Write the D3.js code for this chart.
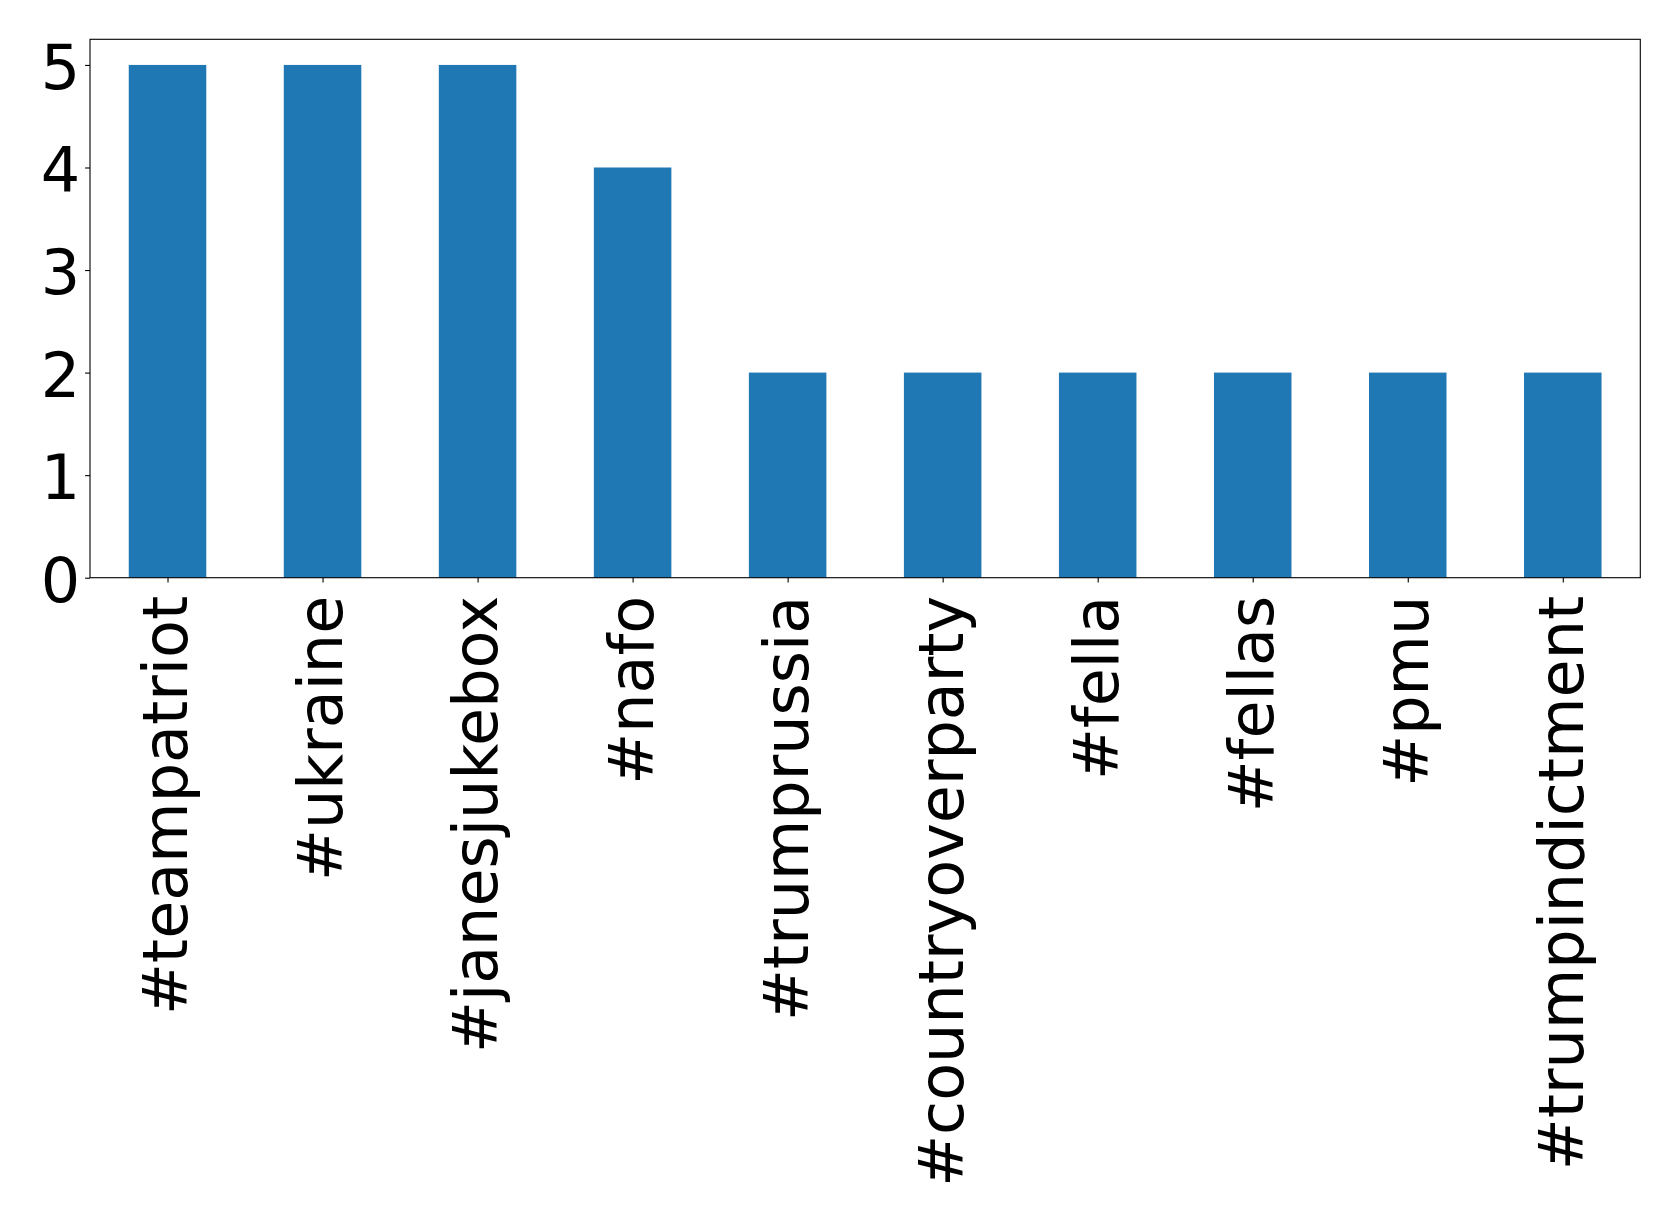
<!DOCTYPE html>
<html>
<head>
<meta charset="utf-8">
<script src="https://cdn.jsdelivr.net/npm/d3@7"></script>
<style>
  html, body { margin: 0; padding: 0; background: #fff; }
  svg { display: block; }
  text { font-family: "DejaVu Sans", sans-serif; fill: #000; }
</style>
</head>
<body>
<svg id="chart" width="1679" height="1224"></svg>
<script>
const categories = ["#teampatriot", "#ukraine", "#janesjukebox", "#nafo", "#trumprussia",
  "#countryoverparty", "#fella", "#fellas", "#pmu", "#trumpindictment"];
const counts = [5, 5, 5, 4, 2, 2, 2, 2, 2, 2];
const yTicks = [0, 1, 2, 3, 4, 5];

(function () {
const W = 1679, H = 1224;
const mLeft = 90, mRight = 1640.3, mTop = 39.3, mBottom = 577.7;
const fontSize = 62;

const svg = d3.select("#chart");

const x = d3.scaleLinear().domain([-0.5, categories.length - 0.5]).range([mLeft, mRight]);
const y = d3.scaleLinear().domain([0, d3.max(counts) * 1.05]).range([mBottom, mTop]);
const barW = x(0.5) - x(0);

svg.append("g").selectAll("rect")
  .data(counts)
  .join("rect")
  .attr("x", (d, i) => x(i) - barW / 2)
  .attr("width", barW)
  .attr("y", d => y(d))
  .attr("height", d => y(0) - y(d))
  .attr("fill", "#1f77b4");

// frame
svg.append("rect")
  .attr("x", mLeft).attr("y", mTop)
  .attr("width", mRight - mLeft).attr("height", mBottom - mTop)
  .attr("fill", "none").attr("stroke", "#000").attr("stroke-width", 1.1);

// y axis
const yAxis = d3.axisLeft(y).tickValues(yTicks).tickFormat(d3.format("d")).tickSize(4.9).tickPadding(4.9);
const gy = svg.append("g").attr("transform", `translate(${mLeft},0)`).call(yAxis);
gy.select(".domain").remove();
gy.selectAll(".tick line").attr("stroke", "#000").attr("stroke-width", 1.1);
gy.selectAll(".tick text")
  .attr("font-size", fontSize)
  .attr("font-family", "DejaVu Sans, sans-serif")
  .attr("fill", "#000")
  .attr("dy", "0.38em");

// x axis
const xAxis = d3.axisBottom(x).tickValues(d3.range(categories.length))
  .tickFormat(i => categories[i]).tickSize(4.9).tickPadding(0);
const gx = svg.append("g").attr("transform", `translate(0,${mBottom})`).call(xAxis);
gx.select(".domain").remove();
gx.selectAll(".tick line").attr("stroke", "#000").attr("stroke-width", 1.1);
gx.selectAll(".tick text")
  .attr("font-size", fontSize)
  .attr("font-family", "DejaVu Sans, sans-serif")
  .attr("fill", "#000")
  .attr("text-anchor", "end")
  .attr("transform", "translate(0,18) rotate(-90)")
  .attr("x", 0)
  .attr("y", 0)
  .attr("dy", "0.313em");
})();
</script>
</body>
</html>
